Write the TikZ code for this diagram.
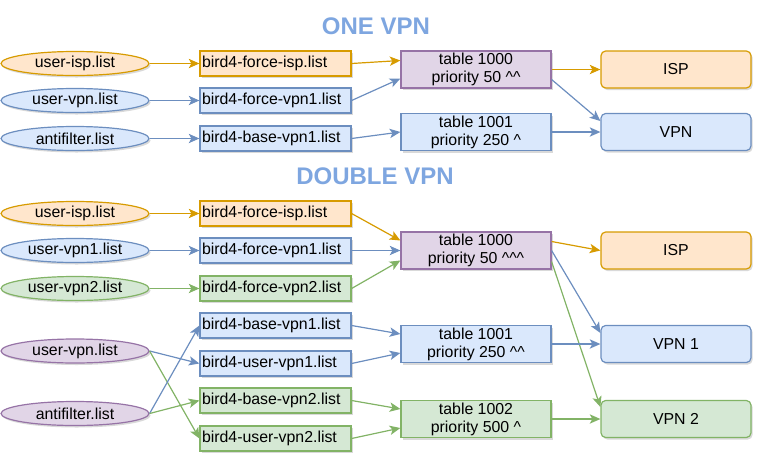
\documentclass[tikz,border=0pt]{standalone}
\usepackage{fontspec}
\setmainfont{Liberation Sans}
\usetikzlibrary{shapes.geometric,arrows.meta,calc,shadows}
\definecolor{oF}{HTML}{FFE6CC}\definecolor{oD}{HTML}{D79B00}
\definecolor{bF}{HTML}{DAE8FC}\definecolor{bD}{HTML}{6C8EBF}
\definecolor{gF}{HTML}{D5E8D4}\definecolor{gD}{HTML}{82B366}
\definecolor{pF}{HTML}{E1D5E7}\definecolor{pD}{HTML}{9673A6}
\definecolor{tC}{HTML}{7EA6E0}
\newcommand{\ca}{\textasciicircum}
\begin{document}
\begin{tikzpicture}[x=0.75pt,y=-0.75pt,
  font=\fontsize{11.9}{13.5}\selectfont,
  shd/.style={drop shadow={shadow xshift=1.2pt,shadow yshift=-1.5pt,opacity=0.15,fill=black}},
  ell/.style={ellipse,draw,line width=0.9pt,minimum width=111pt,minimum height=18pt,inner sep=0pt,shd},
  lbox/.style={rectangle,draw,line width=0.9pt,text width=110.25pt,align=left,inner xsep=1.5pt,inner ysep=0pt,minimum height=18.75pt,shd},
  tbox/.style={rectangle,draw,line width=0.9pt,minimum width=112.5pt,minimum height=27.75pt,align=center,inner sep=0pt,shd},
  dbox/.style={rectangle,rounded corners=3.5pt,draw,line width=0.9pt,minimum width=112.5pt,minimum height=27.75pt,inner sep=0pt,shd},
  orange/.style={fill=oF,draw=oD},
  blue/.style={fill=bF,draw=bD},
  green/.style={fill=gF,draw=gD},
  purple/.style={fill=pF,draw=pD},
  conn/.style={line width=0.9pt,-{Stealth[length=8pt,width=7pt,inset=2pt]}},
  co/.style={conn,draw=oD},
  cb/.style={conn,draw=bD},
  cg/.style={conn,draw=gD},
  ttl/.style={font=\fontsize{18}{20}\selectfont\bfseries,text=tC}
]
\useasboundingbox (0,0) rectangle (765,465);

% titles
\node[ttl] (t1) at (376,26) {ONE VPN};
\node[ttl] (t2) at (375,176) {DOUBLE VPN};

% ONE VPN
\node[ell,orange] (e1) at (75,63.5) {user-isp.list};
\node[ell,blue]   (e2) at (75,100.5) {user-vpn.list};
\node[ell,blue]   (e3) at (75,138.5) {antifilter.list};
\node[lbox,orange] (b1) at (275.5,63.5) {bird4-force-isp.list};
\node[lbox,blue]   (b2) at (275.5,100.5) {bird4-force-vpn1.list};
\node[lbox,blue]   (b3) at (275.5,138.5) {bird4-base-vpn1.list};
\node[tbox,purple] (a0) at (476,69.5) {table 1000\\priority 50 \ca\ca};
\node[tbox,blue]   (a1) at (476,132) {table 1001\\priority 250 \ca};
\node[dbox,orange] (isp) at (676,69.5) {ISP};
\node[dbox,blue]   (vpn) at (676,132) {VPN};

\draw[co] (e1) -- (b1);
\draw[cb] (e2) -- (b2);
\draw[cb] (e3) -- (b3);
\draw[co] (b1.east) -- ($(a0.west)+(0,-9)$);
\draw[cb] (b2.east) -- ($(a0.west)+(0,9)$);
\draw[cb] (b3.east) -- (a1.west);
\draw[co] (a0.east) -- (isp.west);
\draw[cb] ($(a0.east)+(0,10)$) -- ($(vpn.west)+(0,-11)$);
\draw[cb] (a1.east) -- (vpn.west);

% DOUBLE VPN
\node[ell,orange] (f1) at (75,213.5) {user-isp.list};
\node[ell,blue]   (f2) at (75,250.5) {user-vpn1.list};
\node[ell,green]  (f3) at (75,288.5) {user-vpn2.list};
\node[ell,purple] (uv) at (75,351) {user-vpn.list};
\node[ell,purple] (af) at (75,413.5) {antifilter.list};
\node[lbox,orange] (c1) at (275.5,213.5) {bird4-force-isp.list};
\node[lbox,blue]   (c2) at (275.5,250.5) {bird4-force-vpn1.list};
\node[lbox,green]  (c3) at (275.5,288.5) {bird4-force-vpn2.list};
\node[lbox,blue]   (d1) at (275.5,325.5) {bird4-base-vpn1.list};
\node[lbox,blue]   (d2) at (275.5,363.5) {bird4-user-vpn1.list};
\node[lbox,green]  (d3) at (275.5,400.5) {bird4-base-vpn2.list};
\node[lbox,green]  (d4) at (275.5,438.5) {bird4-user-vpn2.list};
\node[tbox,purple] (s0) at (476,250.5) {table 1000\\priority 50 \ca\ca\ca};
\node[tbox,blue]   (s1) at (476,344) {table 1001\\priority 250 \ca\ca};
\node[tbox,green]  (s2) at (476,419) {table 1002\\priority 500 \ca};
\node[dbox,orange] (isp2) at (676,250.5) {ISP};
\node[dbox,blue]   (vpn1) at (676,344) {VPN 1};
\node[dbox,green]  (vpn2) at (676,419) {VPN 2};

\draw[co] (f1) -- (c1);
\draw[cb] (f2) -- (c2);
\draw[cg] (f3) -- (c3);
\draw[cb] (uv.east) -- (d2.west);
\draw[cg] (uv.east) -- (d4.west);
\draw[cb] (af.east) -- (d1.west);
\draw[cg] (af.east) -- (d3.west);
\draw[co] (c1.east) -- ($(s0.west)+(0,-10)$);
\draw[cb] (c2.east) -- (s0.west);
\draw[cg] (c3.east) -- ($(s0.west)+(0,10)$);
\draw[cb] (d1.east) -- ($(s1.west)+(0,-10)$);
\draw[cb] (d2.east) -- ($(s1.west)+(0,9)$);
\draw[cg] (d3.east) -- ($(s2.west)+(0,-10)$);
\draw[cg] (d4.east) -- ($(s2.west)+(0,9)$);
\draw[co] ($(s0.east)+(0,-9)$) -- (isp2.west);
\draw[cb] (s0.east) -- ($(vpn1.west)+(0,-11)$);
\draw[cg] ($(s0.east)+(0,11)$) -- ($(vpn2.west)+(0,-12)$);
\draw[cb] (s1.east) -- (vpn1.west);
\draw[cg] (s2.east) -- (vpn2.west);
\end{tikzpicture}
\end{document}
